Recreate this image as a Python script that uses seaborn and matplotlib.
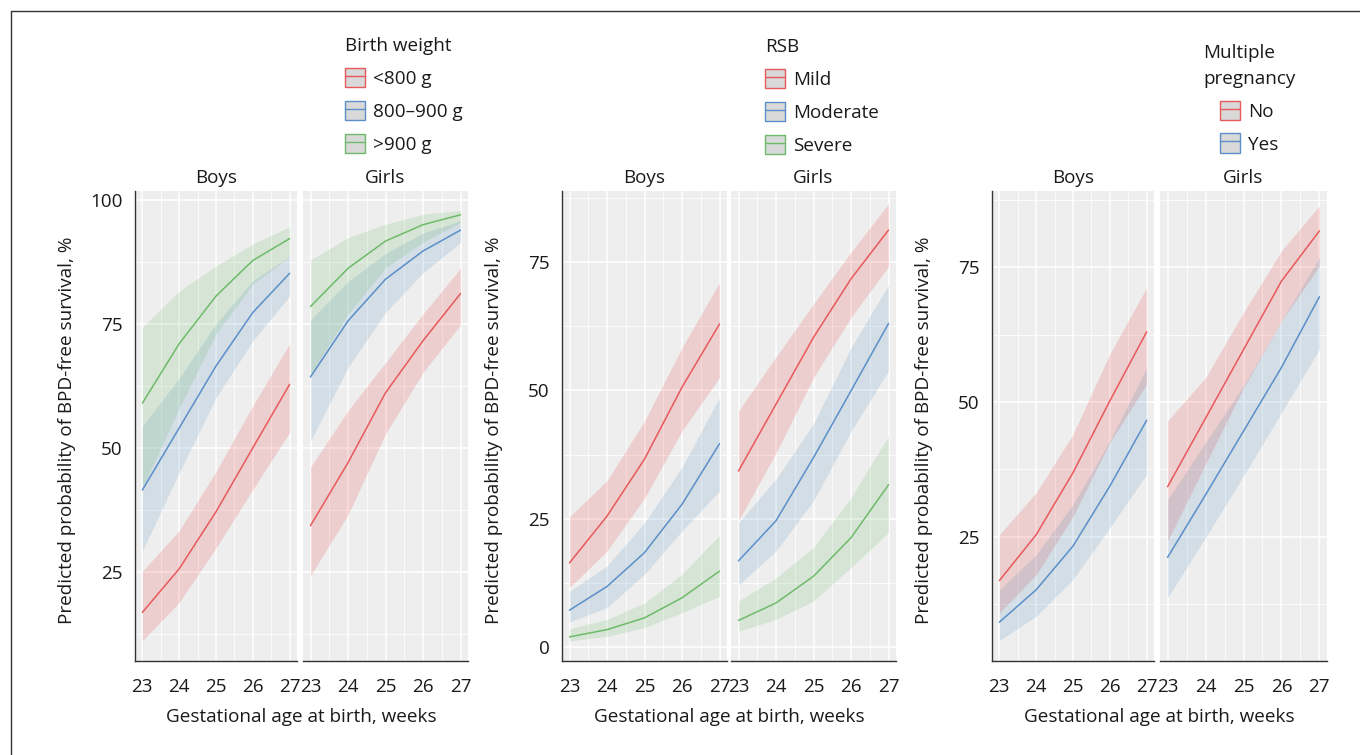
import matplotlib
matplotlib.use("Agg")
import matplotlib.pyplot as plt
from matplotlib.patches import Patch
from matplotlib.lines import Line2D
from matplotlib.legend_handler import HandlerTuple
import pandas as pd
import seaborn as sns

weeks = [23, 24, 25, 26, 27]
sexes = ["Boys", "Girls"]

# each series: [estimate, lower CI, upper CI] by week
# birth weight
bw_boys_lt800 = [[16.8, 25.6, 37.1, 50.0, 62.8], [11.1, 18.8, 29.8, 41.6, 53.1], [25.1, 33.3, 45.2, 58.5, 71.0]]
bw_boys_800_900 = [[41.5, 54.0, 66.5, 77.3, 85.2], [29.2, 45.0, 60.1, 71.6, 80.6], [54.4, 64.0, 75.0, 83.7, 88.7]]
bw_boys_gt900 = [[59.0, 71.0, 80.6, 87.8, 92.2], [42.0, 58.0, 73.0, 83.0, 88.6], [74.3, 81.6, 86.7, 91.1, 94.6]]
bw_girls_lt800 = [[34.3, 47.0, 61.1, 71.6, 81.1], [24.2, 36.5, 52.8, 65.2, 74.8], [46.1, 57.5, 67.2, 77.0, 86.2]]
bw_girls_800_900 = [[64.3, 75.6, 84.0, 89.7, 93.9], [51.4, 66.2, 77.3, 85.3, 91.4], [75.8, 83.5, 89.2, 93.3, 95.8]]
bw_girls_gt900 = [[78.5, 86.2, 91.7, 95.0, 97.0], [64.8, 77.0, 86.3, 91.5, 95.4], [87.9, 92.4, 95.1, 97.1, 97.9]]

# RSB
rsb_boys_mild = [[16.4, 25.5, 36.6, 50.6, 62.9], [11.6, 18.7, 29.0, 42.1, 52.5], [25.4, 32.4, 44.0, 58.3, 71.0]]
rsb_boys_moderate = [[7.2, 11.8, 18.4, 27.8, 39.6], [4.9, 7.7, 14.2, 22.6, 30.4], [10.9, 15.8, 24.2, 35.0, 48.6]]
rsb_boys_severe = [[2.0, 3.4, 5.7, 9.6, 14.8], [1.2, 2.1, 3.8, 6.7, 9.9], [3.6, 5.4, 8.6, 14.2, 21.8]]
rsb_girls_mild = [[34.3, 47.3, 60.3, 71.7, 81.2], [24.6, 37.8, 52.5, 64.2, 74.1], [46.0, 56.5, 66.8, 76.9, 86.3]]
rsb_girls_moderate = [[16.8, 24.6, 36.9, 49.9, 63.0], [12.1, 18.7, 28.5, 42.0, 53.8], [24.2, 32.7, 43.5, 58.3, 70.5]]
rsb_girls_severe = [[5.2, 8.6, 13.8, 21.3, 31.6], [3.1, 5.4, 9.0, 15.5, 22.3], [9.0, 13.5, 19.4, 29.1, 41.1]]

# multiple pregnancy
mp_boys_no = [[16.9, 25.4, 36.9, 50.2, 63.0], [10.9, 18.0, 28.8, 42.5, 53.3], [25.4, 33.2, 44.0, 58.9, 71.2]]
mp_boys_yes = [[9.2, 15.2, 23.3, 34.4, 46.6], [5.8, 10.3, 17.1, 26.7, 36.6], [15.2, 21.7, 31.0, 42.8, 56.3]]
mp_girls_no = [[34.3, 47.0, 59.7, 72.4, 81.7], [24.2, 38.5, 52.6, 65.0, 75.2], [46.5, 54.5, 66.6, 78.0, 86.4]]
mp_girls_yes = [[21.2, 32.8, 44.6, 56.4, 69.5], [13.7, 24.9, 36.3, 48.0, 59.8], [31.9, 42.5, 53.0, 65.0, 76.8]]

bw_levels = ["<800 g", "800\u2013900 g", ">900 g"]
rsb_levels = ["Mild", "Moderate", "Severe"]
mp_levels = ["No", "Yes"]

RIBBON = ["#E41A1C", "#377EB8", "#4DAF4A"]
LINE = ["#E8595B", "#5B8FC9", "#6DBB69"]
TXT = "#1a1a1a"
FS = 13.6

W, H = 1360, 755


def long_rows(panel, sex, levels, series):
    rows = []
    for lev, (est, lo, hi) in zip(levels, series):
        for w, e, l, h in zip(weeks, est, lo, hi):
            rows.append(dict(panel=panel, sex=sex, group=lev, week=w, est=e, lo=l, hi=h))
    return rows


rows = []
rows += long_rows("bw", "Boys", bw_levels, [bw_boys_lt800, bw_boys_800_900, bw_boys_gt900])
rows += long_rows("bw", "Girls", bw_levels, [bw_girls_lt800, bw_girls_800_900, bw_girls_gt900])
rows += long_rows("rsb", "Boys", rsb_levels, [rsb_boys_mild, rsb_boys_moderate, rsb_boys_severe])
rows += long_rows("rsb", "Girls", rsb_levels, [rsb_girls_mild, rsb_girls_moderate, rsb_girls_severe])
rows += long_rows("mp", "Boys", mp_levels, [mp_boys_no, mp_boys_yes])
rows += long_rows("mp", "Girls", mp_levels, [mp_girls_no, mp_girls_yes])
df = pd.DataFrame(rows)

sns.set_style("white")
plt.rcParams["font.family"] = ["Open Sans", "DejaVu Sans"]
plt.rcParams["text.color"] = TXT
plt.rcParams["axes.labelcolor"] = TXT
plt.rcParams["xtick.color"] = TXT
plt.rcParams["ytick.color"] = TXT

fig = plt.figure(figsize=(W / 100, H / 100), dpi=100)


def px_axes(left, top, right, bottom):
    return fig.add_axes([left / W, 1 - bottom / H, (right - left) / W, (bottom - top) / H])


panels = [
    dict(key="bw", title="Birth weight", levels=bw_levels, ylim=(7.0, 101.8), yticks=[25, 50, 75, 100],
         boxes=[(135, 297), (303, 468)], legend=(345, 37), title_align="left"),
    dict(key="rsb", title="RSB", levels=rsb_levels, ylim=(-2.7, 88.8), yticks=[0, 25, 50, 75],
         boxes=[(562, 727), (731, 896)], legend=(765, 38), title_align="left"),
    dict(key="mp", title="Multiple\npregnancy", levels=mp_levels, ylim=(2.0, 89.1), yticks=[25, 50, 75],
         boxes=[(992, 1154), (1160, 1327)], legend=(1203, 44), title_align="center"),
]
TOP, BOTTOM = 191, 661

for p in panels:
    pal = dict(zip(p["levels"], LINE))
    for i, (sex, (x0, x1)) in enumerate(zip(sexes, p["boxes"])):
        ax = px_axes(x0, TOP, x1, BOTTOM)
        sub = df[(df["panel"] == p["key"]) & (df["sex"] == sex)]
        for j, lev in enumerate(p["levels"]):
            g = sub[sub["group"] == lev]
            ax.fill_between(g["week"], g["lo"], g["hi"], color=RIBBON[j], alpha=0.15, lw=0, zorder=2)
        sns.lineplot(data=sub, x="week", y="est", hue="group", hue_order=p["levels"],
                     palette=pal, ax=ax, legend=False, linewidth=1.1, zorder=3)
        ax.set_facecolor("#EEEEEE")
        ax.set_xlim(22.8, 27.2)
        ax.set_ylim(*p["ylim"])
        ax.set_xticks(weeks)
        ax.set_xticks([23.5, 24.5, 25.5, 26.5], minor=True)
        yt = p["yticks"]
        ax.set_yticks(yt)
        minors = [t - 12.5 for t in yt] + [yt[-1] + 12.5]
        ax.set_yticks([m for m in minors if p["ylim"][0] < m < p["ylim"][1]], minor=True)
        ax.grid(which="major", color="white", lw=1.1)
        ax.grid(which="minor", color="white", lw=0.55)
        ax.set_axisbelow(True)
        for s in ["top", "right"]:
            ax.spines[s].set_visible(False)
        ax.spines["bottom"].set_color("#333333")
        ax.spines["bottom"].set_linewidth(1.0)
        ax.spines["left"].set_color("#333333")
        ax.spines["left"].set_linewidth(1.0)
        ax.tick_params(which="major", direction="out", length=5, width=0.9, color="#333333",
                       labelsize=FS, pad=4)
        ax.tick_params(axis="x", which="major", pad=7)
        ax.tick_params(which="minor", length=0)
        if i == 1:
            ax.spines["left"].set_visible(False)
            ax.tick_params(axis="y", which="major", left=False, labelleft=False)
        ax.set_xlabel("")
        ax.set_ylabel("")
        ax.set_title(sex, fontsize=FS, pad=6, color=TXT)

    # axis labels shared by the pair of facets
    x0 = p["boxes"][0][0]
    x1 = p["boxes"][1][1]
    fig.text((x0 + x1) / 2 / W, 1 - 717 / H, "Gestational age at birth, weeks",
             ha="center", va="center", fontsize=FS)
    fig.text((x0 - 68) / W, 1 - 430 / H, "Predicted probability of BPD-free survival, %",
             ha="center", va="center", rotation=90, fontsize=FS)

    handles = [(Patch(facecolor="#D9D9D9", edgecolor=LINE[j], lw=1.0),
                Line2D([], [], color=LINE[j], lw=1.0)) for j in range(len(p["levels"]))]
    lx, ly = p["legend"]
    leg = fig.legend(handles, p["levels"], loc="upper left", bbox_to_anchor=(lx / W, 1 - ly / H),
                     frameon=False, title=p["title"], fontsize=FS, title_fontsize=FS,
                     handler_map={tuple: HandlerTuple(ndivide=1)},
                     handlelength=1.05, handleheight=1.2, handletextpad=0.45,
                     labelspacing=0.68, borderpad=0, borderaxespad=0,
                     alignment=p["title_align"])
    leg.get_title().set_linespacing(1.55)

# outer frame (only top and left edges fall inside the image)
fig.add_artist(Line2D([11 / W, 11 / W], [0, 1 - 11 / H], transform=fig.transFigure,
                      color="#333333", lw=1.0))
fig.add_artist(Line2D([11 / W, 1], [1 - 11 / H, 1 - 11 / H], transform=fig.transFigure,
                      color="#333333", lw=1.0))

fig.savefig("out.png", dpi=100)
